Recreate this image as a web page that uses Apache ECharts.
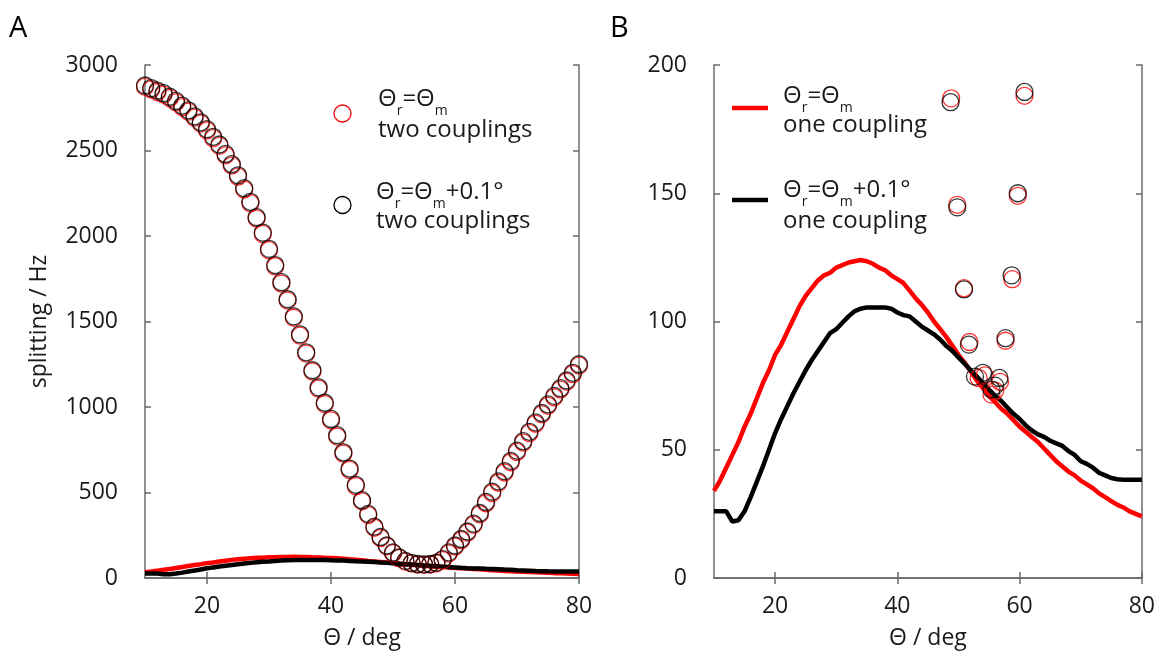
<!DOCTYPE html>
<html>
<head>
<meta charset="utf-8">
<title>splitting vs theta</title>
<script src="https://cdn.jsdelivr.net/npm/echarts@6.0.0/dist/echarts.min.js"></script>
<style>
  html, body { margin: 0; padding: 0; background: #fff; }
  #chart { width: 1158px; height: 655px; }
</style>
</head>
<body>
<div id="chart"></div>
<script>
// angle grid (deg) shared by the curves and the panel A circles
const theta = [10, 11, 12, 13, 14, 15, 16, 17, 18, 19, 20, 21, 22, 23, 24, 25, 26, 27, 28, 29,
  30, 31, 32, 33, 34, 35, 36, 37, 38, 39, 40, 41, 42, 43, 44, 45, 46, 47, 48, 49,
  50, 51, 52, 53, 54, 55, 56, 57, 58, 59, 60, 61, 62, 63, 64, 65, 66, 67, 68, 69,
  70, 71, 72, 73, 74, 75, 76, 77, 78, 79, 80]

// two couplings (circles, panel A)
const twoRed = [2872, 2857, 2842, 2827, 2807, 2782, 2754, 2727, 2692, 2657, 2617, 2572, 2527, 2472, 2412, 2347, 2272, 2192, 2102, 2012,
  1917, 1822, 1722, 1622, 1522, 1417, 1312, 1207, 1107, 1017, 922, 827, 727, 632, 537, 448, 368, 294, 234, 185,
  145, 116, 96, 85, 79, 77, 79, 86, 104, 143, 183, 221, 265, 311, 372, 437, 497, 557, 617, 677,
  737, 792, 847, 902, 957, 1007, 1057, 1102, 1147, 1192, 1242]
const twoBlack = [2880, 2865, 2850, 2835, 2815, 2790, 2762, 2735, 2700, 2665, 2625, 2580, 2535, 2480, 2420, 2355, 2280, 2200, 2110, 2020,
  1925, 1830, 1730, 1630, 1530, 1425, 1320, 1215, 1115, 1025, 930, 835, 735, 640, 545, 455, 375, 300, 240, 190,
  150, 120, 100, 88, 82, 80, 82, 90, 110, 150, 190, 228, 272, 318, 380, 445, 505, 565, 625, 685,
  745, 800, 855, 910, 965, 1015, 1065, 1110, 1155, 1200, 1250]

// one coupling (lines, both panels)
const oneRed = [34, 38, 43, 48, 53, 59, 64, 70, 76, 81, 87, 91, 96, 101, 106, 110, 113, 116, 118, 119,
  121, 122, 123, 123.5, 124, 123.5, 122.5, 121, 120, 118, 116.5, 115, 112, 109, 106.5, 103.5, 100, 97, 94, 90.5,
  87, 84, 80.5, 77, 74, 71, 68.5, 66, 64, 61.5, 59, 57, 55, 53, 50.5, 48, 45.5, 43.5, 41.5, 40,
  38, 36.5, 35, 33, 31.5, 30, 28.5, 27.5, 26, 25, 24]
const oneBlack = [26, 26, 26, 22, 22.5, 26, 31.5, 37.5, 43.5, 50, 56.5, 62, 67, 72, 76.5, 81, 85, 88.5, 92, 95.5,
  97, 99.5, 102, 104, 105, 105.5, 105.5, 105.5, 105.5, 105, 103.5, 102.5, 102, 100, 98, 96.5, 95, 93, 90.5, 88.5,
  86, 83.5, 81, 78.5, 76, 73.5, 71, 69, 66.5, 64, 62, 59.5, 57.5, 56, 55, 53.5, 52.5, 51.5, 49.5, 48,
  45.5, 44.5, 43, 41, 40, 39, 38.5, 38.3, 38.3, 38.3, 38.3]

// two couplings near the magic angle (circles, panel B)
const bRedTheta = [48.8, 60.8, 49.8, 59.7, 50.9, 58.8, 51.8, 57.7, 53.3, 54.3, 56.8, 55.4, 56.0]
const bRedVal = [187, 188, 145.5, 149, 113, 116.5, 92, 92.5, 78, 79, 76.5, 71.5, 73]
const bBlackTheta = [48.7, 60.8, 49.8, 59.7, 50.9, 58.7, 51.7, 57.7, 52.7, 54.0, 56.7, 55.4, 56.0]
const bBlackVal = [185.5, 189.5, 144.5, 150, 112.5, 118, 91, 93.5, 78.5, 80, 78, 73.5, 75]

// tick labels
const xTicks = [20, 40, 60, 80]
const yTicksA = [0, 500, 1000, 1500, 2000, 2500, 3000]
const yTicksB = [0, 50, 100, 150, 200]

const FONT = '"Open Sans", "DejaVu Sans", sans-serif'
const RED = '#ff0000'
const BLACK = '#000000'
const AXIS = '#6b6b6b'
const TXT = '#1a1a1a'
const FS = 23      // tick / axis name size
const LFS = 24     // legend text size
const SFS = 14     // subscript size

function pairs(xs, ys) {
    return xs.map((x, i) => [x, ys[i]])
}

function xAx(grid, pos, labels) {
    return {
        type: 'value', gridIndex: grid, position: pos, min: 10, max: 80,
        axisLine: { show: true, lineStyle: { color: AXIS, width: 1.5 } },
        axisTick: { show: true, inside: true, length: 6, customValues: xTicks, lineStyle: { color: AXIS, width: 1.5 } },
        axisLabel: { show: labels, customValues: xTicks, fontSize: FS, fontFamily: FONT, color: TXT, margin: 17 },
        splitLine: { show: false },
        name: labels ? 'Θ / deg' : '',
        nameLocation: 'middle', nameGap: 49,
        nameTextStyle: { fontSize: FS, fontFamily: FONT, color: TXT }
    }
}

function yAx(grid, pos, ticks, name) {
    const labels = pos === 'left'
    return {
        type: 'value', gridIndex: grid, position: pos,
        min: ticks[0], max: ticks[ticks.length - 1], interval: ticks[1] - ticks[0],
        axisLine: { show: true, lineStyle: { color: AXIS, width: 1.5 } },
        axisTick: { show: true, inside: true, length: 6, lineStyle: { color: AXIS, width: 1.5 } },
        axisLabel: { show: labels, fontSize: FS, fontFamily: FONT, color: TXT, margin: 27, formatter: v => String(v) },
        splitLine: { show: false },
        name: labels ? name : '',
        nameLocation: 'middle', nameGap: 94,
        nameTextStyle: { fontSize: FS, fontFamily: FONT, color: TXT }
    }
}

function lineSeries(name, x, y, color, xi, yi) {
    return {
        name: name, type: 'line', xAxisIndex: xi, yAxisIndex: yi,
        data: pairs(x, y), showSymbol: false, symbol: 'none',
        lineStyle: { color: color, width: 4.5 }, z: 2
    }
}

function circleSeries(name, x, y, color, xi, yi) {
    return {
        name: name, type: 'scatter', xAxisIndex: xi, yAxisIndex: yi,
        data: pairs(x, y), symbol: 'circle', symbolSize: 17,
        itemStyle: { color: 'rgba(0,0,0,0)', borderColor: color, borderWidth: 1.3 }, z: 3
    }
}

// measure text so that the subscripts sit right after their glyphs
const ctx = document.createElement('canvas').getContext('2d')
function textW(str, size) {
    ctx.font = size + 'px "Open Sans"'
    return ctx.measureText(str).width
}

// "Θr=Θm" (+ extra) as a row of text pieces, cy = centre of the big glyphs
function label1(x, cy, extra) {
    const parts = [['Θ', false], ['r', true], ['=Θ', false], ['m', true]]
    if (extra) parts.push([extra, false])
    const out = []
    let cx = x
    parts.forEach(p => {
        const size = p[1] ? SFS : LFS
        out.push({
            type: 'text', x: cx, y: p[1] ? cy + 12 : cy,
            style: { text: p[0], fontSize: size, fontFamily: FONT, fill: TXT, verticalAlign: 'middle', align: 'left' }
        })
        cx += textW(p[0], size) + (p[1] ? 0 : 0)
    })
    return out
}

function label2(x, y, str) {
    return {
        type: 'text', x: x, y: y,
        style: { text: str, fontSize: LFS, fontFamily: FONT, fill: TXT, verticalAlign: 'middle', align: 'left' }
    }
}

const option = {
    animation: false,
    backgroundColor: '#ffffff',
    grid: [
        { left: 145, top: 65, width: 434, height: 513 },
        { left: 714, top: 65, width: 433, height: 513 }
    ],
    xAxis: [xAx(0, 'bottom', true), xAx(0, 'top', false), xAx(1, 'bottom', true), xAx(1, 'top', false)],
    yAxis: [yAx(0, 'left', yTicksA, 'splitting / Hz'), yAx(0, 'right', yTicksA, ''),
        yAx(1, 'left', yTicksB, ''), yAx(1, 'right', yTicksB, '')],
    series: [
        lineSeries('A one red', theta, oneRed, RED, 0, 0),
        lineSeries('A one black', theta, oneBlack, BLACK, 0, 0),
        circleSeries('A two red', theta, twoRed, RED, 0, 0),
        circleSeries('A two black', theta, twoBlack, BLACK, 0, 0),
        lineSeries('B one red', theta, oneRed, RED, 2, 2),
        lineSeries('B one black', theta, oneBlack, BLACK, 2, 2),
        circleSeries('B two red', bRedTheta, bRedVal, RED, 2, 2),
        circleSeries('B two black', bBlackTheta, bBlackVal, BLACK, 2, 2)
    ],
    graphic: [
        { type: 'text', x: 9, y: 29, style: { text: 'A', fontSize: 29, fontFamily: FONT, fill: BLACK, verticalAlign: 'middle' } },
        { type: 'text', x: 610, y: 29, style: { text: 'B', fontSize: 29, fontFamily: FONT, fill: BLACK, verticalAlign: 'middle' } },
        // legend A
        { type: 'circle', shape: { cx: 342.5, cy: 113.5, r: 8.5 }, style: { fill: 'none', stroke: RED, lineWidth: 1.3 } },
        ...label1(378, 99),
        label2(378, 130, 'two couplings'),
        { type: 'circle', shape: { cx: 342.5, cy: 205, r: 8.5 }, style: { fill: 'none', stroke: BLACK, lineWidth: 1.3 } },
        ...label1(376, 192, '+0.1°'),
        label2(376, 221, 'two couplings'),
        // legend B
        { type: 'line', shape: { x1: 732, y1: 108, x2: 768, y2: 108 }, style: { stroke: RED, lineWidth: 4.5 } },
        ...label1(783, 96),
        label2(783, 125.5, 'one coupling'),
        { type: 'line', shape: { x1: 732, y1: 200, x2: 768, y2: 200 }, style: { stroke: BLACK, lineWidth: 4.5 } },
        ...label1(783, 190, '+0.1°'),
        label2(783, 221, 'one coupling')
    ]
}

const chart = echarts.init(document.getElementById('chart'))
chart.setOption(option)
</script>
</body>
</html>
